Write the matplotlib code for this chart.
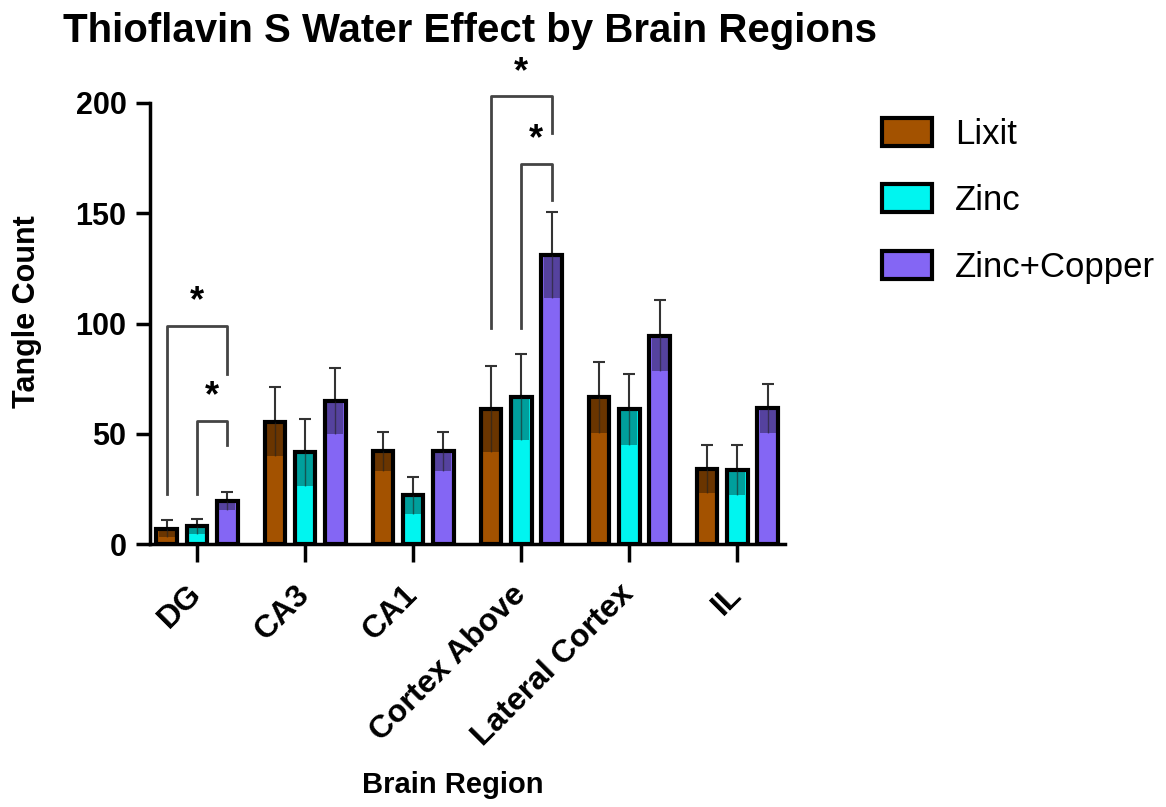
import matplotlib
matplotlib.use("Agg")
import matplotlib.pyplot as plt
import numpy as np
from matplotlib.patches import Patch

plt.rcParams['font.family'] = ['Liberation Sans', 'DejaVu Sans']

regions = ["DG", "CA3", "CA1", "Cortex Above", "Lateral Cortex", "IL"]
groups = ["Lixit", "Zinc", "Zinc+Copper"]
lixit = [7, 55.5, 42, 61, 66.5, 34]
zinc = [8, 41.5, 22, 66.5, 61, 33.5]
zinc_cu = [19.5, 65, 42, 131, 94.5, 61.5]
lixit_err = [4, 15.5, 9, 19.5, 16, 11]
zinc_err = [3.5, 15, 8.5, 19.5, 16, 11.5]
zinc_cu_err = [4, 15, 9, 19.5, 16, 11]
colors = ["#A35200", "#00F5F0", "#8466F4"]
yticks = [0, 50, 100, 150, 200]

# significance brackets: (region index, group a, group b, bracket height, left leg bottom, right leg bottom)
brackets = [
    (0, 0, 2, 99, 22.5, 77),
    (0, 1, 2, 56, 22.5, 45),
    (3, 0, 2, 203, 98, 186.5),
    (3, 1, 2, 172.5, 98, 156),
]

fig = plt.figure(figsize=(11.66, 8.07), dpi=100)
ax = fig.add_axes([150/1166, 1-544/807, 635/1166, 441/807])

x = np.arange(len(regions))
offset = 0.28
width = 0.19
series = [(lixit, lixit_err), (zinc, zinc_err), (zinc_cu, zinc_cu_err)]
for i, ((vals, errs), col) in enumerate(zip(series, colors)):
    xs = x + (i - 1) * offset
    vals = np.array(vals); errs = np.array(errs)
    ax.errorbar(xs, vals, yerr=[np.zeros_like(errs), errs], fmt='none',
                ecolor='#333333', elinewidth=1.5, capsize=4, capthick=1.5, zorder=1)
    ax.bar(xs, vals, width=width, color=col, edgecolor='black', linewidth=3, zorder=2)
    ax.bar(xs, errs, bottom=vals - errs, width=width * 0.78, color='black', alpha=0.35,
           linewidth=0, zorder=3)
    ax.vlines(xs, vals - errs, vals, colors='#222222', linewidth=1.0, alpha=0.6, zorder=3)

for (r, a, b, h, la, lb) in brackets:
    xa = x[r] + (a - 1) * offset
    xb = x[r] + (b - 1) * offset
    ax.plot([xa, xa, xb, xb], [la, h, h, lb], color='#444444', lw=2, clip_on=False, zorder=4)
    ax.text((xa + xb) / 2, h + 3, "*", ha='center', va='bottom', fontsize=26,
            fontweight='bold', clip_on=False)

ax.set_xlim(-0.435, 5.44)
ax.set_ylim(0, 200)
ax.set_yticks(yticks)
ax.set_yticklabels([str(t) for t in yticks], fontsize=22, fontweight='bold')
ax.set_xticks(x)
ax.set_xticklabels(regions, rotation=45, ha='right', va='center', rotation_mode='anchor',
                   fontsize=23, fontweight='bold')
ax.tick_params(axis='both', width=2.5, direction='out', color='black')
ax.tick_params(axis='x', length=13, pad=20)
ax.tick_params(axis='y', length=10, pad=7)
for s in ['top', 'right']:
    ax.spines[s].set_visible(False)
for s in ['left', 'bottom']:
    ax.spines[s].set_linewidth(2.5)

ax.set_ylabel("Tangle Count", fontsize=22, fontweight='bold')
ax.yaxis.set_label_coords(-0.170, 0.526)
ax.set_xlabel("Brain Region", fontsize=21, fontweight='bold')
ax.xaxis.set_label_coords(0.477, -0.515)

fig.text(63/1166, 1-31/807, "Thioflavin S Water Effect by Brain Regions",
         fontsize=29, fontweight='bold', ha='left', va='center')

handles = [Patch(facecolor=c, edgecolor='black', linewidth=3) for c in colors]
fig.legend(handles, groups, loc='upper left', bbox_to_anchor=(868/1166, 1-104/807),
           frameon=False, fontsize=25, handlelength=1.44, handleheight=0.86,
           labelspacing=0.96, handletextpad=0.66, borderaxespad=0)

fig.savefig("out.png", dpi=100)
